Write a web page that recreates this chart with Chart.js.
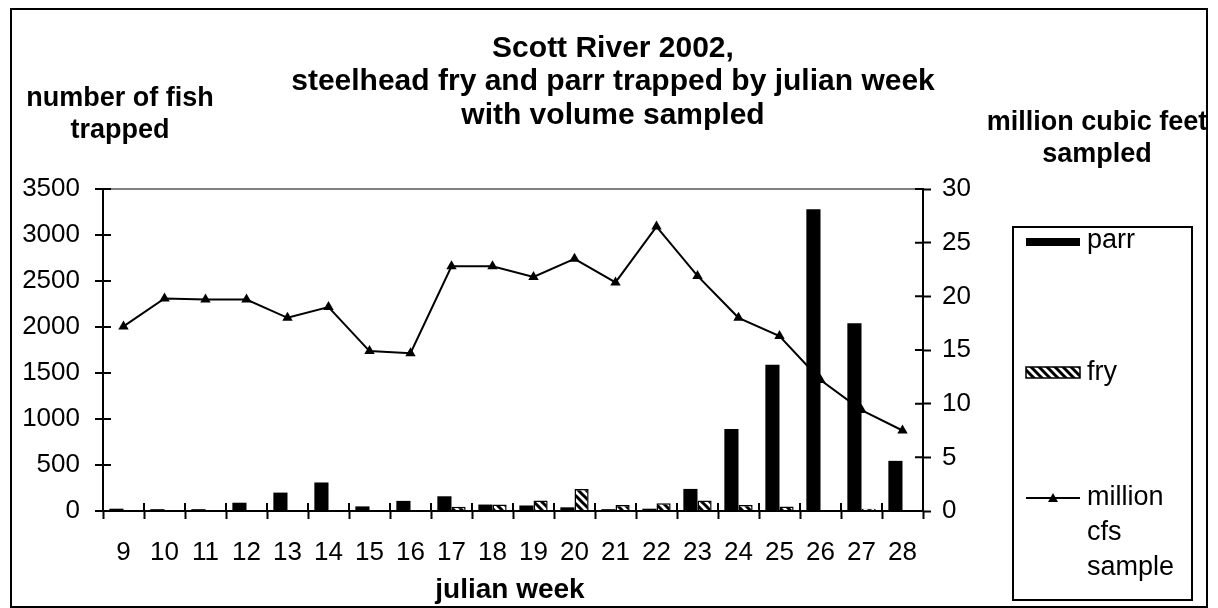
<!DOCTYPE html>
<html>
<head>
<meta charset="utf-8">
<script src="https://cdn.jsdelivr.net/npm/chart.js@4/dist/chart.umd.min.js"></script>
<style>
html,body{margin:0;padding:0;background:#fff;}
#wrap{width:1218px;height:608px;}
</style>
</head>
<body>
<div id="wrap"><canvas id="c" width="1218" height="608"></canvas></div>
<script>
// ---- data ----
const weeks = ['9','10','11','12','13','14','15','16','17','18','19','20','21','22','23','24','25','26','27','28'];
const parrCounts = [25, 20, 20, 90, 200, 310, 50, 110, 160, 70, 60, 40, 20, 25, 240, 890, 1590, 3280, 2040, 545];
const fryCounts  = [0, 0, 0, 0, 0, 0, 0, 0, 45, 70, 115, 240, 65, 85, 115, 65, 50, 0, 25, 0];
const volumeSampled = [17.2, 19.8, 19.7, 19.7, 18.0, 19.0, 14.9, 14.7, 22.8, 22.8, 21.8, 23.5, 21.3, 26.5, 21.9, 18.0, 16.3, 12.2, 9.4, 7.5];
const titleLines = ['Scott River 2002,', 'steelhead fry and parr trapped by julian week', 'with volume sampled'];
const leftTitleLines = ['number of fish', 'trapped'];
const rightTitleLines = ['million cubic feet', 'sampled'];
const xTitle = 'julian week';
const legendLabels = ['parr', 'fry', ['million', 'cfs', 'sample']];

const FONT = '"Liberation Sans", Arial, sans-serif';
Chart.defaults.font.family = FONT;
Chart.defaults.color = '#000';

function hatch() {
  const p = document.createElement('canvas');
  p.width = 8; p.height = 8;
  const g = p.getContext('2d');
  g.fillStyle = '#fff'; g.fillRect(0,0,8,8);
  g.strokeStyle = '#000'; g.lineWidth = 3;
  g.beginPath();
  g.moveTo(-2,-2); g.lineTo(10,10);
  g.moveTo(-2,6); g.lineTo(2,10);
  g.moveTo(6,-2); g.lineTo(10,2);
  g.stroke();
  return g.createPattern(p, 'repeat');
}
const hatchPattern = hatch();

const decor = {
  id: 'decor',
  afterDraw(chart) {
    const ctx = chart.ctx;
    const ca = chart.chartArea;
    ctx.save();
    // inner tick halves
    ctx.strokeStyle = '#000'; ctx.lineWidth = 2;
    const ys = chart.scales.y, y1 = chart.scales.y1;
    ctx.beginPath();
    ys.ticks.forEach((t,i) => { const y = ys.getPixelForTick(i); ctx.moveTo(ca.left, y); ctx.lineTo(ca.left + 8, y); });
    y1.ticks.forEach((t,i) => { const y = y1.getPixelForTick(i); ctx.moveTo(ca.right - 8, y); ctx.lineTo(ca.right, y); });
    const n = weeks.length;
    for (let i = 0; i <= n; i++) {
      const x = ca.left + (ca.right - ca.left) * i / n;
      ctx.moveTo(x, ca.bottom); ctx.lineTo(x, ca.bottom - 8);
    }
    ctx.stroke();

    // outer border
    ctx.lineWidth = 2;
    ctx.strokeRect(11, 9, 1196, 598);

    // titles
    ctx.fillStyle = '#000';
    ctx.textAlign = 'center'; ctx.textBaseline = 'alphabetic';
    ctx.font = 'bold 30px ' + FONT;
    const tb = [57, 90, 124];
    titleLines.forEach((s,i) => ctx.fillText(s, 613, tb[i]));
    ctx.font = 'bold 27px ' + FONT;
    ctx.fillText(leftTitleLines[0], 120, 106);
    ctx.fillText(leftTitleLines[1], 120, 138);
    ctx.fillText(rightTitleLines[0], 1097, 130);
    ctx.fillText(rightTitleLines[1], 1097, 162);
    ctx.font = 'bold 28px ' + FONT;
    ctx.fillText(xTitle, 510, 598);

    // legend
    ctx.lineWidth = 2;
    ctx.strokeRect(1013, 227, 179, 373);
    ctx.fillStyle = '#000';
    ctx.fillRect(1026, 238, 54, 8);
    ctx.fillStyle = hatchPattern;
    ctx.fillRect(1026, 367, 54, 11);
    ctx.lineWidth = 1.5;
    ctx.strokeRect(1026, 367, 54, 11);
    ctx.lineWidth = 2;
    ctx.beginPath(); ctx.moveTo(1026, 498); ctx.lineTo(1080, 498); ctx.stroke();
    ctx.fillStyle = '#000';
    ctx.beginPath(); ctx.moveTo(1053, 493); ctx.lineTo(1058, 502); ctx.lineTo(1048, 502); ctx.closePath(); ctx.fill();
    ctx.font = '27px ' + FONT;
    ctx.textAlign = 'left'; ctx.textBaseline = 'middle';
    ctx.fillText(legendLabels[0], 1087, 241);
    ctx.fillText(legendLabels[1], 1087, 373);
    legendLabels[2].forEach((s,i) => ctx.fillText(s, 1087, 498 + i * 35));
    ctx.restore();
  }
};

new Chart(document.getElementById('c'), {
  data: {
    labels: weeks,
    datasets: [
      { type: 'bar', label: 'parr', data: parrCounts, backgroundColor: '#000', borderWidth: 0, yAxisID: 'y', order: 2 },
      { type: 'bar', label: 'fry', data: fryCounts, backgroundColor: hatchPattern, borderColor: '#000', borderWidth: 1.5, yAxisID: 'y', order: 2 },
      { type: 'line', label: 'million cfs sample', data: volumeSampled, yAxisID: 'y1', borderColor: '#000', borderWidth: 2,
        pointStyle: 'triangle', pointRadius: 6, pointBackgroundColor: '#000', pointBorderColor: '#000', pointBorderWidth: 0, tension: 0, order: 1 }
    ]
  },
  options: {
    responsive: false,
    animation: false,
    devicePixelRatio: 1,
    layout: { padding: { top: 189, left: 0, right: 215, bottom: 0 } },
    datasets: { bar: { categoryPercentage: 0.69, barPercentage: 1.0 } },
    plugins: { legend: { display: false }, title: { display: false }, tooltip: { enabled: false } },
    scales: {
      x: {
        offset: true,
        grid: { offset: true, drawOnChartArea: false, tickLength: 8, tickColor: '#000', tickWidth: 2 },
        border: { color: '#000', width: 2 },
        ticks: { font: { size: 26 }, color: '#000', padding: 18, maxRotation: 0, autoSkip: false },
        afterFit(s) { s.height = 97; }
      },
      y: {
        position: 'left', min: 0, max: 3500,
        grid: { drawOnChartArea: true, color: (c) => (c.tick && c.tick.value === 3500 ? '#808080' : 'rgba(0,0,0,0)'), lineWidth: 2, tickLength: 8, tickColor: '#000', tickWidth: 2 },
        border: { color: '#000', width: 2 },
        ticks: { stepSize: 500, font: { size: 26 }, color: '#000', padding: 15, callback: (v) => String(v) },
        afterFit(s) { s.width = 103; }
      },
      y1: {
        position: 'right', min: 0, max: 30,
        grid: { drawOnChartArea: false, tickLength: 8, tickColor: '#000', tickWidth: 2 },
        border: { color: '#000', width: 2 },
        ticks: { stepSize: 5, font: { size: 26 }, color: '#000', padding: 11, callback: (v) => String(v) },
        afterFit(s) { s.width = 80; }
      }
    }
  },
  plugins: [decor]
});
</script>
</body>
</html>
